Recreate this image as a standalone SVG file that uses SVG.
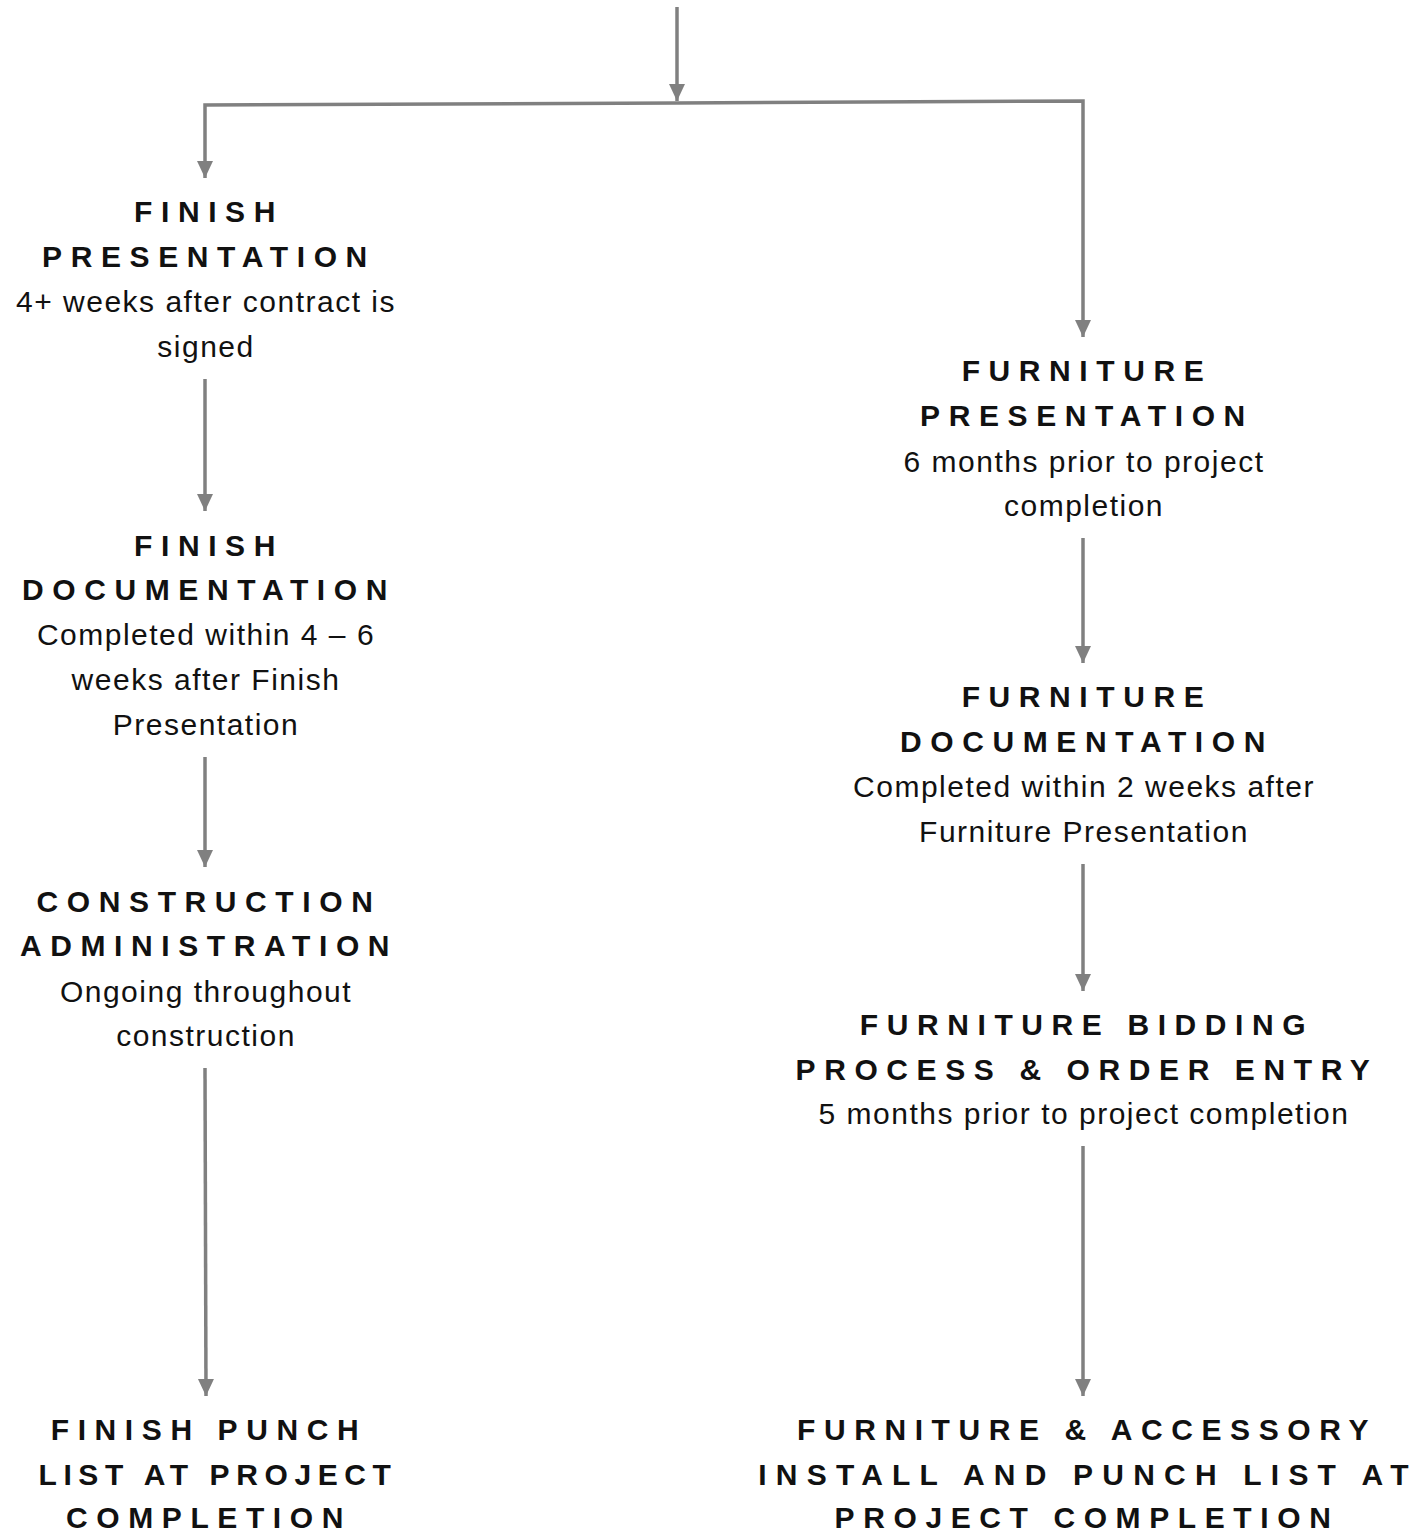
<svg xmlns="http://www.w3.org/2000/svg" width="1424" height="1532" viewBox="0 0 1424 1532">
<style>
.t{font-family:"Liberation Sans",Arial,sans-serif;font-weight:bold;font-size:30px;letter-spacing:8.6px;fill:#111;text-anchor:middle}
.b{font-family:"Liberation Sans",Arial,sans-serif;font-size:30px;letter-spacing:1.5px;fill:#111;text-anchor:middle}
.c{fill:none;stroke:#808080;stroke-width:3.5}
</style>
<defs>
<marker id="ah" markerUnits="userSpaceOnUse" markerWidth="18" markerHeight="18" viewBox="0 0 18 18" refX="17" refY="9" orient="auto">
<path d="M0,1 L17,9 L0,17 Z" fill="#808080"/>
</marker>
</defs>
<rect width="1424" height="1532" fill="#fff"/>
<g id="connectors">
<path class="c" d="M677,7 V101" marker-end="url(#ah)"/>
<path class="c" d="M677,103 L205,105 V178" marker-end="url(#ah)"/>
<path class="c" d="M677,103 L1083,101 V337" marker-end="url(#ah)"/>
<path class="c" d="M205,379 V511" marker-end="url(#ah)"/>
<path class="c" d="M205,757 V867" marker-end="url(#ah)"/>
<path class="c" d="M205,1068 L206,1396" marker-end="url(#ah)"/>
<path class="c" d="M1083,538 V663" marker-end="url(#ah)"/>
<path class="c" d="M1083,864 V991" marker-end="url(#ah)"/>
<path class="c" d="M1083,1146 V1396" marker-end="url(#ah)"/>
</g>
<g id="finish-presentation">
<text class="t" x="209" y="222">FINISH</text>
<text class="t" x="209" y="267">PRESENTATION</text>
<text class="b" x="206" y="312">4+ weeks after contract is</text>
<text class="b" x="206" y="357">signed</text>
</g>
<g id="finish-documentation">
<text class="t" x="209" y="556">FINISH</text>
<text class="t" x="209" y="600">DOCUMENTATION</text>
<text class="b" x="206" y="645">Completed within 4 – 6</text>
<text class="b" x="206" y="690">weeks after Finish</text>
<text class="b" x="206" y="735">Presentation</text>
</g>
<g id="construction-administration">
<text class="t" x="209" y="912">CONSTRUCTION</text>
<text class="t" x="209" y="956">ADMINISTRATION</text>
<text class="b" x="206" y="1002">Ongoing throughout</text>
<text class="b" x="206" y="1046">construction</text>
</g>
<g id="finish-punch-list">
<text class="t" x="209" y="1440">FINISH PUNCH</text>
<text class="t" x="218" y="1485" style="letter-spacing:6.6px">LIST AT PROJECT</text>
<text class="t" x="209" y="1528">COMPLETION</text>
</g>
<g id="furniture-presentation">
<text class="t" x="1087" y="381">FURNITURE</text>
<text class="t" x="1087" y="426">PRESENTATION</text>
<text class="b" x="1084" y="472">6 months prior to project</text>
<text class="b" x="1084" y="516">completion</text>
</g>
<g id="furniture-documentation">
<text class="t" x="1087" y="707">FURNITURE</text>
<text class="t" x="1087" y="752">DOCUMENTATION</text>
<text class="b" x="1084" y="797">Completed within 2 weeks after</text>
<text class="b" x="1084" y="842">Furniture Presentation</text>
</g>
<g id="furniture-bidding">
<text class="t" x="1087" y="1035">FURNITURE BIDDING</text>
<text class="t" x="1087" y="1080">PROCESS &amp; ORDER ENTRY</text>
<text class="b" x="1084" y="1124">5 months prior to project completion</text>
</g>
<g id="furniture-install">
<text class="t" x="1087" y="1440">FURNITURE &amp; ACCESSORY</text>
<text class="t" x="1088" y="1485" style="letter-spacing:9.2px">INSTALL AND PUNCH LIST AT</text>
<text class="t" x="1087" y="1528">PROJECT COMPLETION</text>
</g>
</svg>
